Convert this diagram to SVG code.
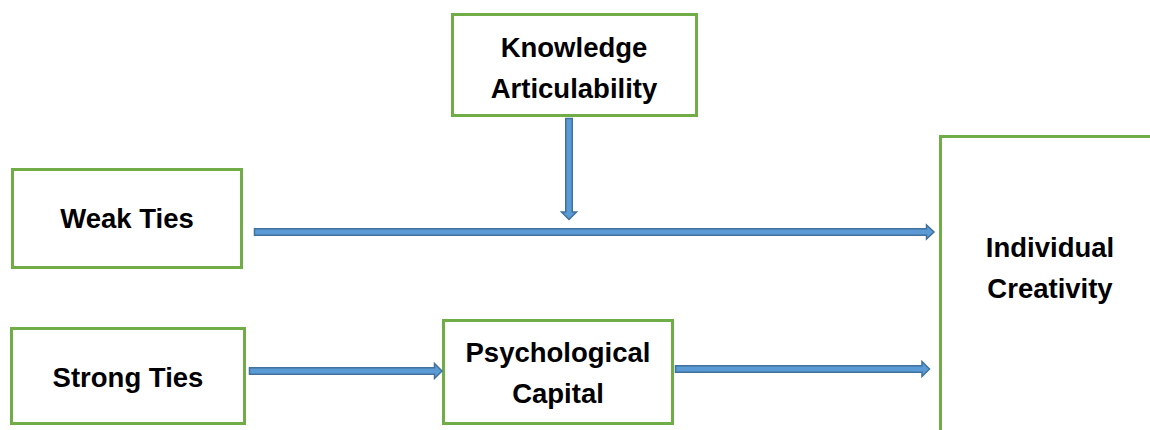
<svg xmlns="http://www.w3.org/2000/svg" width="1150" height="430" viewBox="0 0 1150 430">
<style>
.box{fill:#fff;stroke:#70ad47;stroke-width:3}
.lbl{font-family:"Liberation Sans",Arial,sans-serif;font-weight:bold;font-size:27.5px;fill:#000;text-anchor:middle}
.arr{fill:#5b9bd5;stroke:#41719c;stroke-width:1.5;stroke-linejoin:miter}
</style>
<rect width="1150" height="430" fill="#fff"/>
<g id="knowledge">
<rect class="box" x="452.5" y="14.5" width="244" height="101"/>
<text class="lbl" x="574" y="57">Knowledge</text>
<text class="lbl" x="574" y="98">Articulability</text>
</g>
<g id="weak">
<rect class="box" x="12.5" y="169.5" width="229" height="98"/>
<text class="lbl" x="127" y="228">Weak Ties</text>
</g>
<g id="strong">
<rect class="box" x="11.5" y="328.5" width="233" height="95"/>
<text class="lbl" x="128" y="387">Strong Ties</text>
</g>
<g id="psych">
<rect class="box" x="443.5" y="320.5" width="229" height="103"/>
<text class="lbl" x="558" y="362">Psychological</text>
<text class="lbl" x="558" y="403">Capital</text>
</g>
<g id="creativity">
<path class="box" d="M940.5 440 V136.5 H1160" fill="none"/>
<text class="lbl" x="1050" y="257">Individual</text>
<text class="lbl" x="1050" y="298">Creativity</text>
</g>
<g id="connectors">
<path class="arr" d="M565.75 118.5 H572.25 V212 H576.5 L569 219.5 L561.5 212 H565.75 Z"/>
<path class="arr" d="M254.5 228.75 V235.25 H926.5 V239 L934 232 L926.5 225 V228.75 Z"/>
<path class="arr" d="M249.5 367.75 V374.25 H434.5 V378.5 L442 371 L434.5 363.5 V367.75 Z"/>
<path class="arr" d="M675.5 365.75 V372.25 H922 V376.5 L929.5 369 L922 361.5 V365.75 Z"/>
</g>
</svg>
